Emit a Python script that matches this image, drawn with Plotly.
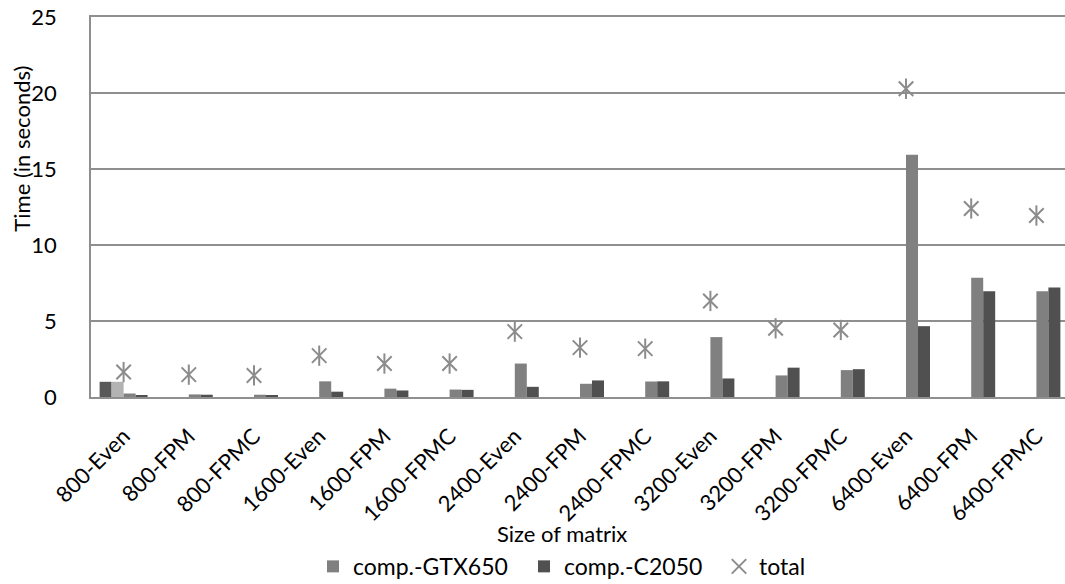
import plotly.graph_objects as go

categories = ['800-Even', '800-FPM', '800-FPMC', '1600-Even', '1600-FPM', '1600-FPMC',
              '2400-Even', '2400-FPM', '2400-FPMC', '3200-Even', '3200-FPM', '3200-FPMC',
              '6400-Even', '6400-FPM', '6400-FPMC']
gtx650 = [0.23, 0.17, 0.15, 1.03, 0.55, 0.49, 2.20, 0.87, 1.02, 3.94, 1.42, 1.77, 15.93, 7.84, 6.96]
c2050 = [0.10, 0.15, 0.13, 0.35, 0.43, 0.47, 0.67, 1.09, 1.03, 1.22, 1.93, 1.83, 4.66, 6.96, 7.20]
total = [1.64, 1.47, 1.42, 2.72, 2.20, 2.20, 4.30, 3.25, 3.18, 6.32, 4.52, 4.41, 20.28, 12.40, 11.94]
# two unlabelled series that only carry a value for the first size
extra_a = [1.0] + [None] * 14
extra_b = [1.0] + [None] * 14

FONT = 'Lato'
GRID = '#8f8f8f'
STAR = '#8c8c8c'

fig = go.Figure()
fig.add_trace(go.Bar(x=categories, y=extra_a, marker_color='#595959', showlegend=False,
                     marker_line_width=0))
fig.add_trace(go.Bar(x=categories, y=extra_b, marker_color='#b3b3b3', showlegend=False,
                     marker_line_width=0))
fig.add_trace(go.Bar(x=categories, y=gtx650, name='comp.-GTX650', marker_color='#808080',
                     marker_line_width=0, legendwidth=166))
fig.add_trace(go.Bar(x=categories, y=c2050, name='comp.-C2050', marker_color='#505050',
                     marker_line_width=0, legendwidth=150))
# six-armed star: an X plus a vertical stroke
fig.add_trace(go.Scatter(x=categories, y=total, mode='markers', showlegend=False,
                         marker=dict(symbol='line-ns-open', size=14.5, color=STAR,
                                     line=dict(color=STAR, width=2))))
fig.add_trace(go.Scatter(x=categories, y=total, mode='markers', name='total',
                         marker=dict(symbol='x-thin-open', size=14.5, color=STAR,
                                     line=dict(color=STAR, width=2))))

W, H = 1065, 584
left, right_px, top, bottom = 91, 1065, 17.3, 397.5
cat_w = (1069.4 - 91.4) / 15

fig.update_layout(
    width=W, height=H,
    margin=dict(l=left, r=0, t=top, b=H - bottom, autoexpand=False),
    plot_bgcolor='white', paper_bgcolor='white',
    barmode='group', bargap=0.264, bargroupgap=0,
    font=dict(family=FONT, size=22, color='#000000'),
    showlegend=True,
    legend=dict(orientation='h', x=(327 - 14 - left) / (right_px - left), xanchor='left',
                y=-(567 - bottom) / (bottom - top), yanchor='middle',
                font=dict(size=23), itemwidth=30, bgcolor='rgba(0,0,0,0)'),
)
fig.update_xaxes(
    type='category', range=[-0.5, -0.5 + (right_px - left) / cat_w],
    tickangle=-45, tickfont=dict(size=22), showgrid=False,
    showline=True, mirror=True, linecolor=GRID, linewidth=1.5, ticks='',
    ticklabelstandoff=16, automargin=False,
)
fig.update_yaxes(
    range=[0, 25], tickvals=[0, 5, 10, 15, 20, 25], tickfont=dict(size=22),
    showgrid=True, gridcolor=GRID, gridwidth=1.5, zeroline=False,
    showline=True, linecolor=GRID, linewidth=1.5, ticks='', ticklabelstandoff=28,
    automargin=False,
)
fig.add_annotation(text='Time (in seconds)', xref='paper', yref='paper',
                   x=(22 - left) / (right_px - left), y=(bottom - 149) / (bottom - top),
                   textangle=-90, showarrow=False, font=dict(size=22),
                   xanchor='center', yanchor='middle')
fig.add_annotation(text='Size of matrix', xref='paper', yref='paper',
                   x=(562 - left) / (right_px - left), y=-(534 - bottom) / (bottom - top),
                   showarrow=False, font=dict(size=22), xanchor='center', yanchor='middle')

fig.write_html('out.html')
